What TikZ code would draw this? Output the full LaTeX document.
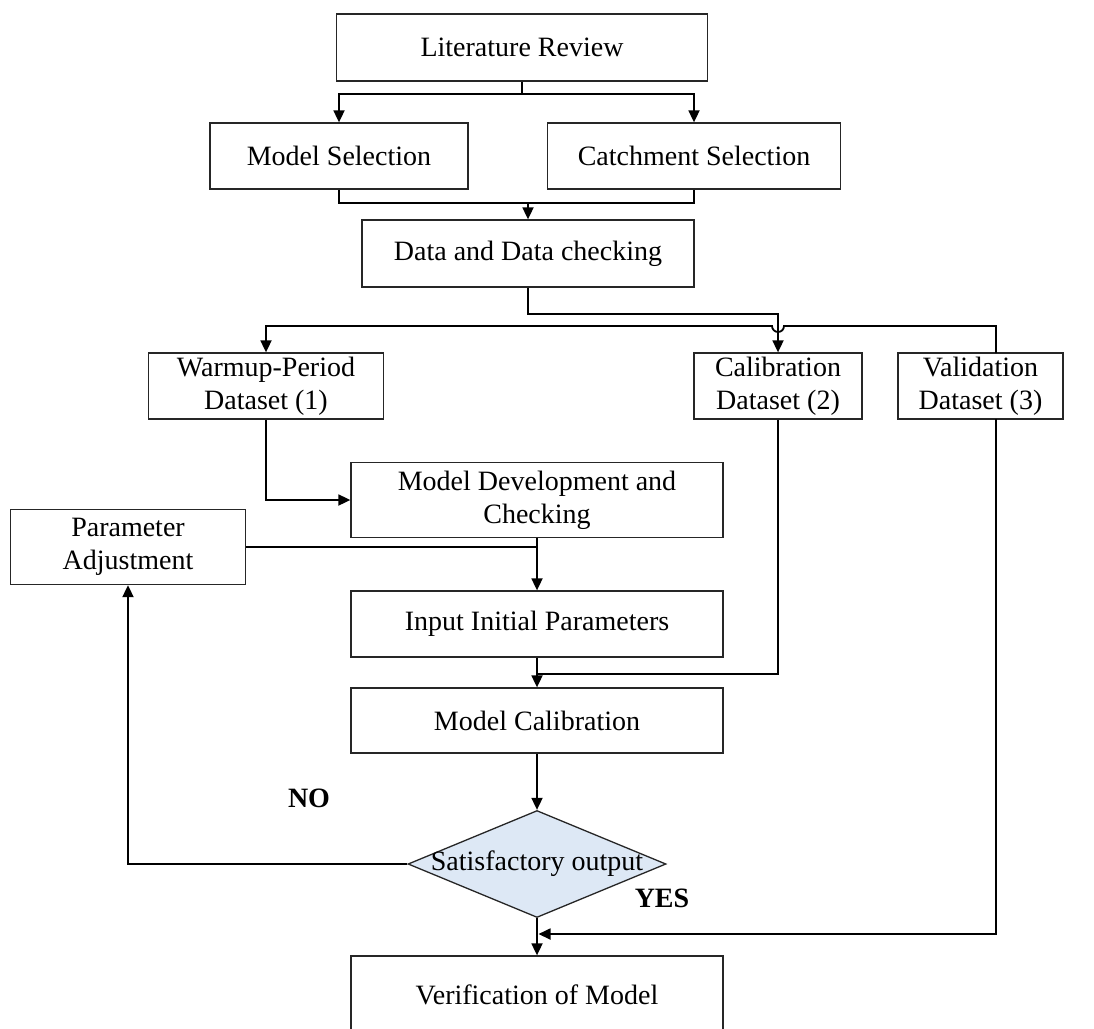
\documentclass[tikz,border=0pt]{standalone}
\usepackage{fontspec}
\setmainfont{Liberation Serif}
\usetikzlibrary{arrows.meta,shapes.geometric}
\definecolor{decfill}{RGB}{221,232,245}
\begin{document}
\begin{tikzpicture}[x=1pt,y=-1pt,
  box/.style={draw=black!85,line width=1.3pt,inner sep=0pt,align=center,font=\fontsize{28}{33}\selectfont},
  conn/.style={line width=1.8pt,black},
  arr/.style={conn,-{Triangle[length=12pt,width=11pt]}},
  lbl/.style={font=\fontsize{28}{33}\selectfont\bfseries,inner sep=0pt}]
\useasboundingbox (0,0) rectangle (1094,1028);
\clip (0,0) rectangle (1094,1028);
\fill[white] (0,0) rectangle (1094,1028);

\node[box,minimum width=371pt,minimum height=67pt] (lit) at (522,47.5) {Literature Review};
\node[box,minimum width=258pt,minimum height=66pt] (msel) at (339,156) {Model Selection};
\node[box,minimum width=293pt,minimum height=66pt] (csel) at (694,156) {Catchment Selection};
\node[box,minimum width=332pt,minimum height=67pt] (data) at (528,253.5) {Data and Data checking};
\node[box,minimum width=235pt,minimum height=66pt] (warm) at (266,386) {Warmup-Period\\Dataset (1)};
\node[box,minimum width=168pt,minimum height=66pt] (cal) at (778,386) {Calibration\\Dataset (2)};
\node[box,minimum width=165pt,minimum height=66pt] (val) at (980.5,386) {Validation\\Dataset (3)};
\node[box,minimum width=372pt,minimum height=75pt] (mdev) at (537,500) {Model Development and\\Checking};
\node[box,minimum width=235pt,minimum height=75pt] (padj) at (128,547) {Parameter\\Adjustment};
\node[box,minimum width=372pt,minimum height=66pt] (input) at (537,624) {Input Initial Parameters};
\node[box,minimum width=372pt,minimum height=65pt] (mcal) at (537,720.5) {Model Calibration};
\node[box,shape=diamond,fill=decfill,minimum width=258pt,minimum height=107pt] (dec) at (537,864) {\makebox[0pt]{Satisfactory output}};
\node[box,minimum width=372pt,minimum height=78pt] (verif) at (537,995) {Verification of Model};

\node[lbl] (no) at (309,798) {NO};
\node[lbl] (yes) at (662,898) {YES};

\coordinate (m1) at (528,202);
\coordinate (vtop) at (996,353);
\coordinate (vbot) at (996,419);
\coordinate (cj) at (537,674);
\coordinate (vj) at (538.5,934);

% top branch
\draw[arr] (lit.south) -- ++(0,12) -| (msel.north);
\draw[arr] (lit.south) -- ++(0,12) -| (csel.north);
% merge
\draw[conn] (msel.south) -- ++(0,13) -| (csel.south);
\draw[arr] (m1) -- (data.north);
% data to calibration
\draw[arr] (data.south) -- ++(0,26) -| (cal.north);
% warmup / validation line with hop
\draw[arr] (vtop) -- (996,326) -- (784,326) arc[start angle=0,end angle=-180,radius=6pt] -- (266,326) -- (warm.north);
% warmup to model development
\draw[arr] (warm.south) |- (mdev.west);
\draw[arr] (mdev.south) -- (input.north);
\draw[conn] (padj.east) -- (padj.east -| mdev.south);
\draw[arr] (input.south) -- (mcal.north);
\draw[conn] (cal.south) |- (cj);
\draw[arr] (mcal.south) -- (dec.north);
\draw[arr] (dec.west) -| (padj.south);
\draw[arr] (dec.south) -- (verif.north);
\draw[arr] (vbot) |- (vj);
\end{tikzpicture}
\end{document}
